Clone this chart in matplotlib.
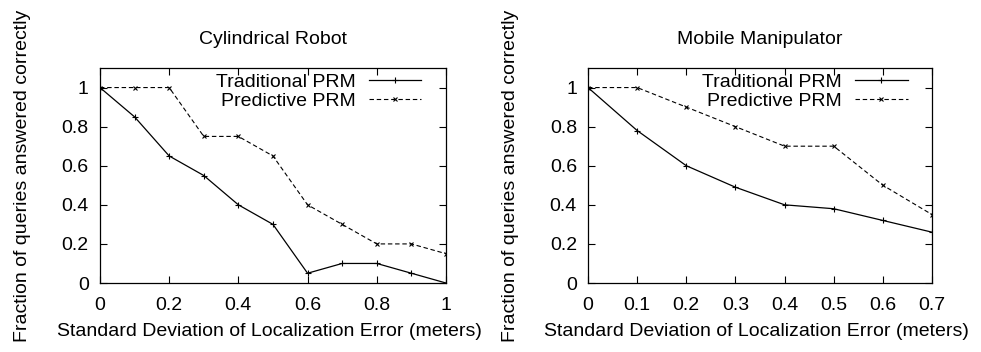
import matplotlib
matplotlib.use("Agg")
import matplotlib.pyplot as plt

plt.rcParams['font.family'] = ['Liberation Sans', 'DejaVu Sans']

# Cylindrical Robot
cyl_x = [0, 0.1, 0.2, 0.3, 0.4, 0.5, 0.6, 0.7, 0.8, 0.9, 1.0]
cyl_trad = [1, 0.85, 0.65, 0.55, 0.4, 0.3, 0.05, 0.1, 0.1, 0.05, 0.0]
cyl_pred = [1, 1, 1, 0.75, 0.75, 0.65, 0.4, 0.3, 0.2, 0.2, 0.15]
cyl_xticks = [0, 0.2, 0.4, 0.6, 0.8, 1]
cyl_xticklabels = ["0", "0.2", "0.4", "0.6", "0.8", "1"]

# Mobile Manipulator
mob_x = [0, 0.1, 0.2, 0.3, 0.4, 0.5, 0.6, 0.7]
mob_trad = [1, 0.78, 0.6, 0.49, 0.4, 0.38, 0.32, 0.26]
mob_pred = [1, 1, 0.9, 0.8, 0.7, 0.7, 0.5, 0.35]
mob_xticks = [0, 0.1, 0.2, 0.3, 0.4, 0.5, 0.6, 0.7]
mob_xticklabels = ["0", "0.1", "0.2", "0.3", "0.4", "0.5", "0.6", "0.7"]

yticks = [0, 0.2, 0.4, 0.6, 0.8, 1]
yticklabels = ["0", "0.2", "0.4", "0.6", "0.8", "1"]

FS = 14


def draw_panel(ax, x, trad, pred, title, xticks, xticklabels, xmax):
    ax.plot(x, trad, color="black", lw=0.9, marker="+", ms=4.5, mew=0.8,
            label="Traditional PRM")
    ax.plot(x, pred, color="black", lw=0.8, ls=(0, (4, 2.5)), marker="x",
            ms=3.5, mew=0.8, label="Predictive PRM")
    ax.set_xlim(0, xmax)
    ax.set_ylim(0, 1.1)
    ax.set_xticks(xticks)
    ax.set_xticklabels(xticklabels)
    ax.set_yticks(yticks)
    ax.set_yticklabels(yticklabels)
    ax.tick_params(direction="in", top=True, right=True, length=5, width=0.8,
                   labelsize=FS)
    ax.tick_params(axis="y", pad=8)
    ax.tick_params(axis="x", pad=10)
    for s in ax.spines.values():
        s.set_linewidth(0.9)
    ax.set_title(title, fontsize=FS, pad=17)
    ax.set_xlabel("Standard Deviation of Localization Error (meters)",
                  fontsize=FS)
    ax.set_ylabel("Fraction of queries answered correctly", fontsize=FS)
    ax.xaxis.set_label_coords(0.49, -0.185)
    ax.yaxis.set_label_coords(-0.2, 0.5)
    leg = ax.legend(loc="upper right", bbox_to_anchor=(0.929, 0.975),
                    frameon=False, markerfirst=False, fontsize=FS,
                    handlelength=2.7, handletextpad=0.7, labelspacing=0.05,
                    borderaxespad=0, borderpad=0)
    leg._legend_handle_box.get_children()[0].align = "right"


fig = plt.figure(figsize=(9.81, 3.52), dpi=100)
ax1 = fig.add_axes([0.1019, 0.196, 0.3527, 0.6108])
ax2 = fig.add_axes([0.5994, 0.196, 0.3507, 0.6108])

draw_panel(ax1, cyl_x, cyl_trad, cyl_pred, "Cylindrical Robot",
           cyl_xticks, cyl_xticklabels, 1.0)
draw_panel(ax2, mob_x, mob_trad, mob_pred, "Mobile Manipulator",
           mob_xticks, mob_xticklabels, 0.7)

fig.savefig("out.png", dpi=100)
